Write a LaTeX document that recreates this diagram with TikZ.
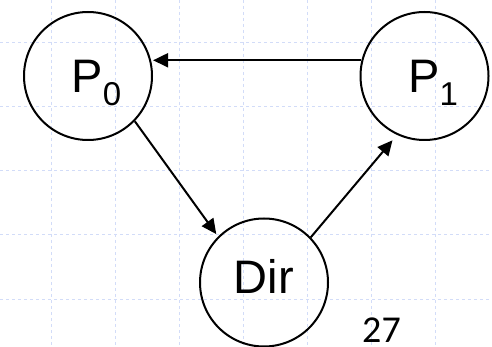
\documentclass[tikz,border=0pt]{standalone}
\usepackage{fontspec}
\setmainfont{Liberation Sans}
\newfontfamily\pagefont{Carlito}
\usetikzlibrary{positioning, arrows.meta}
\definecolor{gridblue}{HTML}{D2DCF8}

\begin{document}
\begin{tikzpicture}
    [
        x=1pt, y=-1pt,
        node distance=206.5pt and 176pt, on grid,
        proc_node/.style={circle, draw=black, line width=2pt, minimum size=128pt, inner sep=0pt, font=\fontsize{47}{47}\selectfont},
        msg/.style={-{Triangle[length=15pt, width=14pt]}, line width=2pt},
        grid_line/.style={gridblue, line width=1pt, dash pattern=on 3pt off 3pt},
    ]
        \useasboundingbox (0,0) rectangle (492,347);
        \foreach \i in {0,...,6}
            \draw[grid_line] ({51.5+64*\i},0) -- ({51.5+64*\i},347);
        \foreach \i in {0,...,4}
            \draw[grid_line] (0,{43+64*\i}) -- (492,{43+64*\i});
        \node[proc_node] (p0) at (88,76) {\hspace*{17pt}P\raisebox{-13pt}[0pt][0pt]{\fontsize{33}{33}\selectfont 0}};
        \node[proc_node] (p1) [right = 336.5pt of p0] {\hspace*{17pt}P\raisebox{-13pt}[0pt][0pt]{\fontsize{33}{33}\selectfont 1}};
        \node[proc_node, text depth=13pt] (dir) [below right = of p0] {Dir};
        \node[font=\pagefont\fontsize{38}{38}\selectfont, anchor=base, inner sep=0pt] (page) at (381.5,342) {27};
        \draw[msg, shorten >=2pt] (p1.166) -- (p0.14);
        \draw[msg, shorten >=3pt] (p0.-44) -- (dir.135);
        \draw[msg, shorten >=7pt] (dir.44) -- (p1.-115);
    \end{tikzpicture}
\end{document}
